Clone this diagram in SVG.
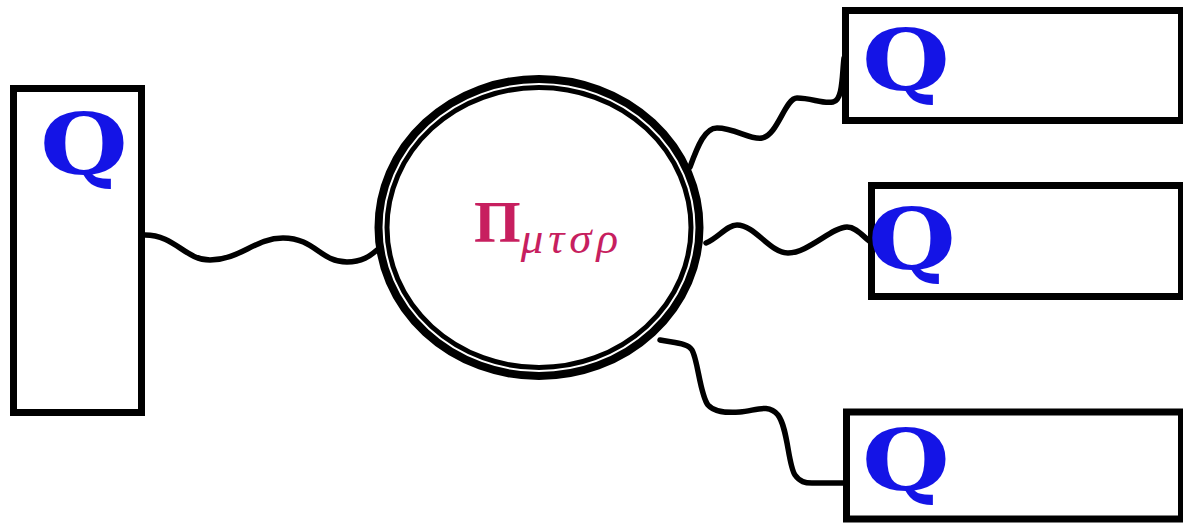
<svg xmlns="http://www.w3.org/2000/svg" width="1183" height="523" viewBox="0 0 1183 523">
<style>
.box{fill:#fff;stroke:#000;stroke-width:7}
.q{font-family:"DejaVu Serif",serif;font-weight:bold;font-size:84px;fill:#1414e6}
.wire{fill:none;stroke:#000;stroke-width:5.5;stroke-linecap:round;stroke-linejoin:round}
.ring{fill:none;stroke:#000}
.pi{font-family:"Liberation Serif",serif;fill:#c71f5f}
</style>
<rect width="1183" height="523" fill="#fff"/>
<g id="connectors">
<path class="wire" d="M145,235 C175,235 185,260 210,260 C240,260 255,238 283,238 C315,238 320,262 347,262 C362,262 370,256 377,250"/>
<path class="wire" d="M690,167 C698,145 705,128 717,128 C735,128 750,140 762,138 C778,135 785,98 797,98 C812,98 822,104 833,102 C843,100 842,75 844,58"/>
<path class="wire" d="M706,243 C718,238 727,225 737,225 C755,225 770,253 788,253 C808,253 832,227 847,227 C857,227 864,238 872,243"/>
<path class="wire" d="M660,340 C675,343 688,343 692,350 C698,360 700,395 708,405 C714,412 725,413 740,412 C755,411 768,403 778,415 C788,428 788,465 795,475 C800,482 805,483 812,483 L845,483"/>
</g>
<g id="node-left">
<rect class="box" x="13.5" y="88.5" width="128" height="324"/>
<text class="q" transform="translate(40,174) scale(1.2,1)">Q</text>
</g>
<g id="node-center">
<ellipse cx="539" cy="227.5" rx="160.5" ry="148.5" fill="#fff" stroke="#000" stroke-width="8"/>
<ellipse class="ring" cx="539" cy="227.5" rx="152" ry="140" stroke-width="5"/>
<text class="pi" x="474" y="242" font-size="60" font-weight="bold">Π<tspan font-size="45" font-weight="normal" font-style="italic" letter-spacing="5" dy="11">μτσρ</tspan></text>
</g>
<g id="node-top">
<rect class="box" x="845.5" y="10.5" width="336" height="110"/>
<text class="q" transform="translate(862,90) scale(1.2,1)">Q</text>
</g>
<g id="node-middle">
<rect class="box" x="871.5" y="185.5" width="310" height="111"/>
<text class="q" transform="translate(868,269) scale(1.2,1)">Q</text>
</g>
<g id="node-bottom">
<rect class="box" x="846.5" y="412" width="335" height="107"/>
<text class="q" transform="translate(862,490) scale(1.2,1)">Q</text>
</g>
</svg>
